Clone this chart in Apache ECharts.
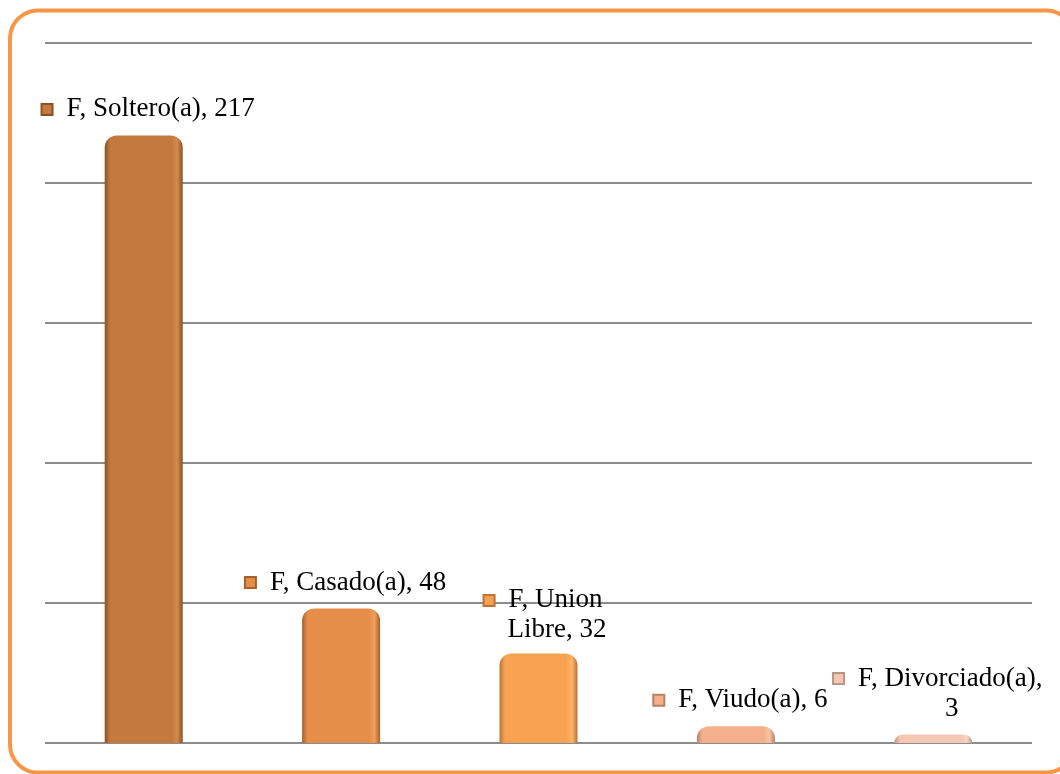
<!DOCTYPE html>
<html>
<head>
<meta charset="utf-8">
<script src="https://cdn.jsdelivr.net/npm/echarts@6/dist/echarts.min.js"></script>
<style>
    html, body { margin: 0; padding: 0; background: #fff; }
    #chart { width: 1060px; height: 774px; }
</style>
</head>
<body>
<div id="chart"></div>
<script>
// datos
var series = 'F'
var categories = ['Soltero(a)', 'Casado(a)', 'Union Libre', 'Viudo(a)', 'Divorciado(a)']
var values = [217, 48, 32, 6, 3]
// salto de linea en la etiqueta: 'none' | 'category' (dentro del nombre) | 'value' (antes del valor)
var labelBreaks = ['none', 'none', 'category', 'none', 'value']
var yTicks = [0, 50, 100, 150, 200, 250]

// colores: [oscuro, base, claro]
var colors = [
    ['#8a5125', '#c47a3c', '#d28b4c'],
    ['#a5612c', '#e58e4a', '#f09d5a'],
    ['#b9733a', '#f9a352', '#ffb466'],
    ['#b98164', '#f4b08d', '#fbc3a3'],
    ['#b99483', '#f5c7b4', '#fbd6c6']
]

var myChart = echarts.init(document.getElementById('chart'))

function barGradient(c) {
    return new echarts.graphic.LinearGradient(0, 0, 1, 0, [
        { offset: 0, color: c[0] },
        { offset: 0.07, color: c[1] },
        { offset: 0.5, color: c[1] },
        { offset: 0.86, color: c[1] },
        { offset: 0.93, color: c[2] },
        { offset: 1, color: c[0] }
    ])
}

function labelText(i) {
    var lines
    var b = labelBreaks[i]
    if (b === 'category') {
        var words = categories[i].split(' ')
        lines = [series + ', ' + words[0], words.slice(1).join(' ') + ', ' + values[i]]
    } else if (b === 'value') {
        lines = [series + ', ' + categories[i] + ',', String(values[i])]
    } else {
        lines = [series + ', ' + categories[i] + ', ' + values[i]]
    }
    var out = '{i' + i + '|}{g|}{t|' + lines[0] + '}'
    for (var k = 1; k < lines.length; k++) {
        out += '\n{p|}{t|' + lines[k] + '}'
    }
    return out
}

var rich = {
    t: { fontFamily: 'Liberation Serif', fontSize: 27, color: '#000', lineHeight: 30 },
    g: { width: 15 },
    p: { width: 27 }
}
colors.forEach(function (c, i) {
    rich['i' + i] = {
        width: 9, height: 9,
        backgroundColor: c[1],
        borderColor: c[0],
        borderWidth: 2,
        verticalAlign: 'middle',
        padding: [0, 0, 0, 0]
    }
})

var data = values.map(function (v, i) {
    return {
        value: v,
        itemStyle: { color: barGradient(colors[i]) },
        label: { distance: i === 2 ? 8 : 11 }
    }
})

var option = {
    animation: false,
    graphic: [{
        type: 'rect',
        shape: { x: 10, y: 10.5, width: 1064, height: 762, r: 28 },
        style: { fill: null, stroke: '#f79646', lineWidth: 4 },
        z: 100,
        silent: true
    }],
    grid: { left: 45, right: 28, top: 43, bottom: 31 },
    xAxis: {
        type: 'category',
        data: categories,
        axisLine: { show: false },
        axisTick: { show: false },
        axisLabel: { show: false }
    },
    yAxis: {
        type: 'value',
        min: yTicks[0],
        max: yTicks[yTicks.length - 1],
        interval: yTicks[1] - yTicks[0],
        axisLine: { show: false },
        axisTick: { show: false },
        axisLabel: { show: false },
        splitLine: { lineStyle: { color: '#8c8c8c', width: 2 } }
    },
    series: [{
        type: 'bar',
        data: data,
        barWidth: 78,
        itemStyle: { borderRadius: [12, 12, 0, 0] },
        label: {
            show: true,
            position: 'top',
            align: 'center',
            offset: [5, 0],
            formatter: function (p) { return labelText(p.dataIndex) },
            rich: rich
        }
    }]
}
myChart.setOption(option)
window.addEventListener('resize', function () {
    myChart.resize()
})
</script>
</body>
</html>
